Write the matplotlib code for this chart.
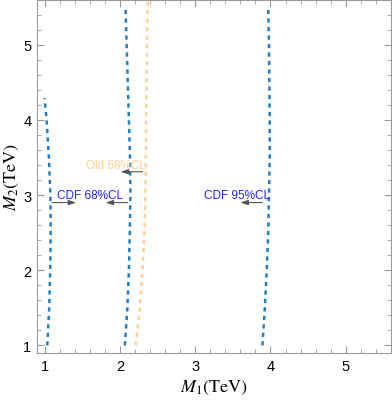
import numpy as np
import matplotlib.pyplot as plt
from matplotlib.ticker import MultipleLocator

# contour lines (M1 in TeV as a function of M2 in TeV)
cdf68_left_m2 = [1.0, 1.5, 2.0, 2.5, 3.0, 3.5, 4.0, 4.29]
cdf68_left_m1 = [1.036, 1.062, 1.075, 1.082, 1.078, 1.058, 1.027, 1.0]

cdf68_right_m2 = [1.0, 1.5, 2.0, 2.5, 3.0, 3.5, 4.0, 4.5, 5.0, 5.5]
cdf68_right_m1 = [2.066, 2.10, 2.12, 2.132, 2.14, 2.135, 2.12, 2.105, 2.09, 2.075]

old68_m2 = [1.0, 1.5, 2.0, 2.5, 3.0, 3.5, 4.0, 4.5, 5.0, 5.6]
old68_m1 = [2.21, 2.265, 2.30, 2.325, 2.34, 2.345, 2.35, 2.355, 2.36, 2.37]

cdf95_m2 = [1.0, 1.5, 2.0, 2.5, 3.0, 3.5, 4.0, 4.5, 5.0, 5.47]
cdf95_m1 = [3.893, 3.925, 3.95, 3.97, 3.98, 3.99, 3.99, 3.985, 3.98, 3.97]

ticks = [1, 2, 3, 4, 5]

blue = '#1f7fc4'
orange = '#fcd296'
label_blue = '#2222ee'

plt.rcParams['font.family'] = ['Liberation Sans', 'DejaVu Sans']
plt.rcParams['mathtext.fontset'] = 'stix'

fig = plt.figure(figsize=(3.92, 4.02), dpi=100)
ax = fig.add_axes([37 / 392, 48 / 402, 354 / 392, 353.5 / 402])

dash = (0, (1.7, 1.7))
ax.plot(cdf68_left_m1, cdf68_left_m2, color=blue, lw=1.8, linestyle=dash)
ax.plot(cdf68_right_m1, cdf68_right_m2, color=blue, lw=1.8, linestyle=dash)
ax.plot(old68_m1, old68_m2, color=orange, lw=1.8, linestyle=dash)
ax.plot(cdf95_m1, cdf95_m2, color=blue, lw=1.8, linestyle=dash)

# labels and arrows
arrow = dict(arrowstyle='-|>,head_length=0.45,head_width=0.15', color='#555555', lw=0.8,
             shrinkA=0, shrinkB=0)
ax.text(1.95, 3.40, 'Old 68%CL', color=orange, fontsize=8.5, ha='center', va='center')
ax.annotate('', xy=(2.01, 3.31), xytext=(2.30, 3.31), arrowprops=arrow)

ax.text(1.60, 3.0, 'CDF 68%CL', color=label_blue, fontsize=8.5, ha='center', va='center')
ax.annotate('', xy=(1.42, 2.9), xytext=(1.10, 2.9), arrowprops=arrow)
ax.annotate('', xy=(1.81, 2.9), xytext=(2.105, 2.9), arrowprops=arrow)

ax.text(3.55, 3.0, 'CDF 95%CL', color=label_blue, fontsize=8.5, ha='center', va='center')
ax.annotate('', xy=(3.60, 2.9), xytext=(3.89, 2.9), arrowprops=arrow)

ax.set_xlim(0.9, 5.6)
ax.set_ylim(0.9, 5.6)
ax.set_xticks(ticks)
ax.set_yticks(ticks)
ax.xaxis.set_minor_locator(MultipleLocator(0.2))
ax.yaxis.set_minor_locator(MultipleLocator(0.2))
ax.tick_params(which='both', direction='in', top=True, right=True, color='#9a9a9a',
               labelsize=10.5, pad=4)
ax.tick_params(which='major', length=5, width=0.8)
ax.tick_params(which='minor', length=3, width=0.6)
for s in ax.spines.values():
    s.set_color('#9a9a9a')
    s.set_linewidth(0.8)

ax.set_xlabel(r'$M_1\mathrm{(TeV)}$', fontsize=13, labelpad=4)
ax.set_ylabel(r'$M_2\mathrm{(TeV)}$', fontsize=13, labelpad=2)

fig.savefig('out.png', dpi=100)
